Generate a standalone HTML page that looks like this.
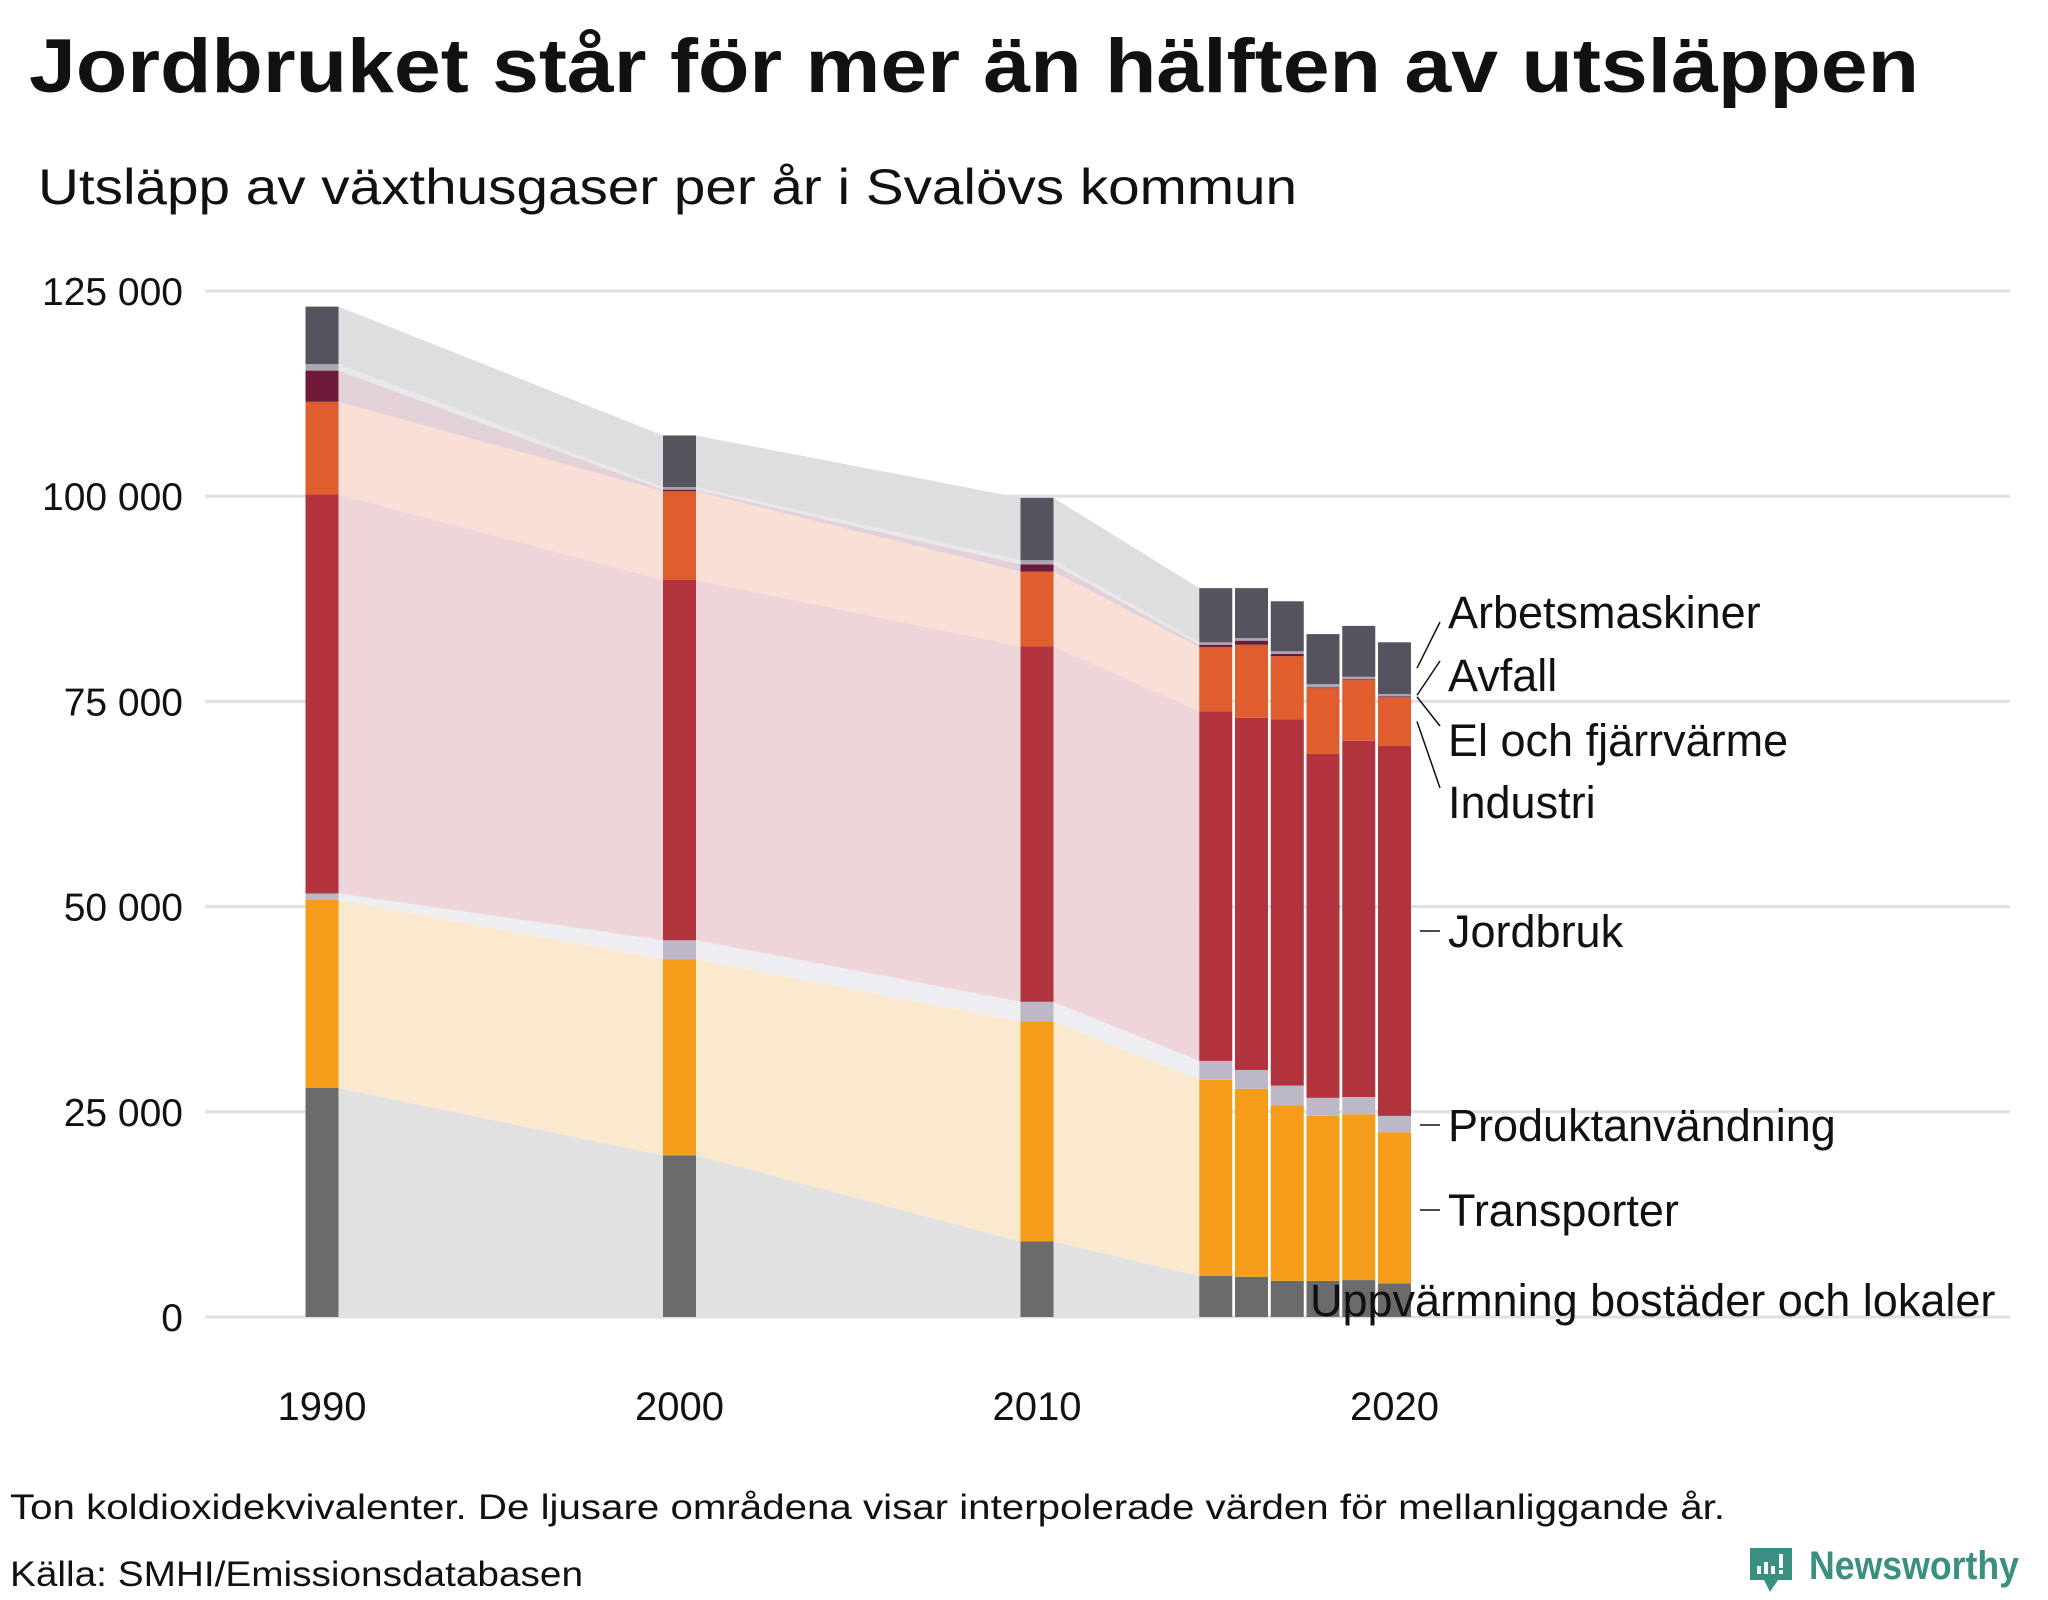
<!DOCTYPE html>
<html><head><meta charset="utf-8"><style>
html,body{margin:0;padding:0;background:#fff}
svg{display:block}
text{font-family:"Liberation Sans",sans-serif}
</style></head><body>
<svg id="chart" width="2048" height="1600" viewBox="0 0 2048 1600" xmlns="http://www.w3.org/2000/svg">
<text x="29" y="92" font-size="76" font-weight="bold" fill="#111" textLength="1890" lengthAdjust="spacingAndGlyphs">Jordbruket står för mer än hälften av utsläppen</text>
<text x="38" y="204" font-size="50" fill="#111" textLength="1259" lengthAdjust="spacingAndGlyphs">Utsläpp av växthusgaser per år i Svalövs kommun</text>
<g id="grid"></g>
<g id="areas"></g>
<g id="bars"></g>
<g id="labels"></g>
<text x="10" y="1519" font-size="35" fill="#111" textLength="1715" lengthAdjust="spacingAndGlyphs">Ton koldioxidekvivalenter. De ljusare områdena visar interpolerade värden för mellanliggande år.</text>
<text x="10" y="1586" font-size="35" fill="#111" textLength="573" lengthAdjust="spacingAndGlyphs">Källa: SMHI/Emissionsdatabasen</text>
<g>
<path d="M1750 1548 h42 v32 h-14 l-8 12 l-6-12 h-14 z" fill="#3a8f80"/>
<rect x="1757" y="1566" width="4" height="8" fill="#fff"/>
<rect x="1764" y="1562" width="4" height="12" fill="#fff"/>
<rect x="1771" y="1566" width="4" height="8" fill="#fff"/>
<rect x="1779" y="1554" width="4" height="14" fill="#fff"/>
<rect x="1779" y="1570" width="4" height="4" fill="#fff"/>
<text x="1809" y="1579" font-size="40" font-weight="bold" fill="#3a8f80" textLength="210" lengthAdjust="spacingAndGlyphs">Newsworthy</text>
</g>
</svg>
<script>
const years = [1990, 2000, 2010, 2015, 2016, 2017, 2018, 2019, 2020];
const seriesNames = ["Uppvärmning bostäder och lokaler","Transporter","Produktanvändning","Jordbruk","Industri","El och fjärrvärme","Avfall","Arbetsmaskiner"];
const uppvarmning = [27.9, 19.7, 9.2, 5.0, 4.9, 4.4, 4.4, 4.5, 4.1];
const transporter = [22.9, 23.9, 26.8, 23.9, 22.9, 21.4, 20.1, 20.2, 18.4];
const produkt = [0.8, 2.3, 2.4, 2.3, 2.3, 2.4, 2.2, 2.1, 2.0];
const jordbruk = [48.6, 43.9, 43.3, 42.6, 42.9, 44.6, 41.9, 43.4, 45.1];
const industri = [11.3, 10.8, 9.1, 7.8, 8.9, 7.7, 8.0, 7.4, 5.9];
const elFjarr = [3.8, 0.2, 0.9, 0.3, 0.5, 0.3, 0.1, 0.1, 0.1];
const avfall = [0.8, 0.3, 0.5, 0.3, 0.3, 0.3, 0.4, 0.3, 0.3];
const arbetsmaskiner = [7.0, 6.3, 7.6, 6.6, 6.1, 6.1, 6.1, 6.2, 6.3];
const yTicks = [0, 25000, 50000, 75000, 100000, 125000];
const yTickLabels = ["0", "25 000", "50 000", "75 000", "100 000", "125 000"];
const xTicks = [1990, 2000, 2010, 2020];

const series = [uppvarmning, transporter, produkt, jordbruk, industri, elFjarr, avfall, arbetsmaskiner];
const colors = ["#6b6b6b","#f59c1a","#bcb8c8","#b0333d","#e05d2d","#6f1a3a","#a9a7b3","#56535f"];
const light = ["#e1e1e1","#fbe9cf","#eeedf1","#eed5d9","#f9dfd6","#e3d1d8","#e8e8ec","#dedee0"];
const NS = "http://www.w3.org/2000/svg";
const X0 = 205, X1 = 2010, BW = 33;
function xs(year){ return 322 + (year - 1990) * 35.75; }
function ys(v){ return 1317 - v * 1026 / 125000; }
function mk(tag, attrs, parent){ const e = document.createElementNS(NS, tag); for (const k in attrs) e.setAttribute(k, attrs[k]); parent.appendChild(e); return e; }

const grid = document.getElementById('grid');
yTicks.forEach((t, i) => {
  const l = mk('line', {x1: X0, x2: X1, y1: ys(t), y2: ys(t), stroke: '#e0dfe4', 'stroke-width': 3}, grid);
  
  
  const tx = mk('text', {x: 183, y: ys(t) + 14, 'font-size': 39, fill: '#111', 'text-anchor': 'end'}, grid);
  tx.textContent = yTickLabels[i];
  
  
});
xTicks.forEach(y => {
  const tx = mk('text', {x: xs(y), y: 1420, 'font-size': 40, fill: '#111', 'text-anchor': 'middle'}, grid);
  tx.textContent = y;
  
  
});

const cum = years.map((_, j) => { let s = 0; return series.map(arr => { const b = s; s += arr[j]; return [b, s]; }); });

const areas = document.getElementById('areas');
for (let j = 0; j < 3; j++) {
  const xa = xs(years[j]) + BW/2, xb = xs(years[j+1]) - BW/2;
  series.forEach((_, k) => {
    const a = cum[j][k], b = cum[j+1][k];
    const p = mk('polygon', {points: `${xa},${ys(a[0]*1000)} ${xb},${ys(b[0]*1000)} ${xb},${ys(b[1]*1000)} ${xa},${ys(a[1]*1000)}`, fill: light[k]}, areas);
    
    
  });
}

const bars = document.getElementById('bars');
years.forEach((yr, j) => {
  series.forEach((_, k) => {
    const c = cum[j][k];
    const r = mk('rect', {x: xs(yr) - BW/2, y: ys(c[1]*1000), width: BW, height: ys(c[0]*1000) - ys(c[1]*1000), fill: colors[k]}, bars);
    
    
  });
});

const labels = document.getElementById('labels');
const labelY = [1300, 1210, 1125, 931, 802, 740, 675, 612];
const lastX = xs(2020) + BW/2;
series.forEach((_, k) => {
  const c = cum[years.length-1][k];
  const mid = ys((c[0]+c[1])/2*1000);
  const lx = k === 0 ? 1310 : 1448;
  if (k >= 1 && k <= 3) {
    const ln = mk('line', {x1: 1420, y1: labelY[k], x2: 1440, y2: labelY[k], stroke: '#111', 'stroke-width': 1.5}, labels);
    
    
  } else if (k > 3) {
    const ln = mk('line', {x1: lastX + 6, y1: mid, x2: 1440, y2: labelY[k] + (k === 7 ? 10 : -14), stroke: '#111', 'stroke-width': 1.5}, labels);
    
    
  }
  const t = mk('text', {x: lx, y: labelY[k] + 16, 'font-size': 45, fill: '#111'}, labels);
  t.textContent = seriesNames[k];
  
  
});
</script>
</body></html>
